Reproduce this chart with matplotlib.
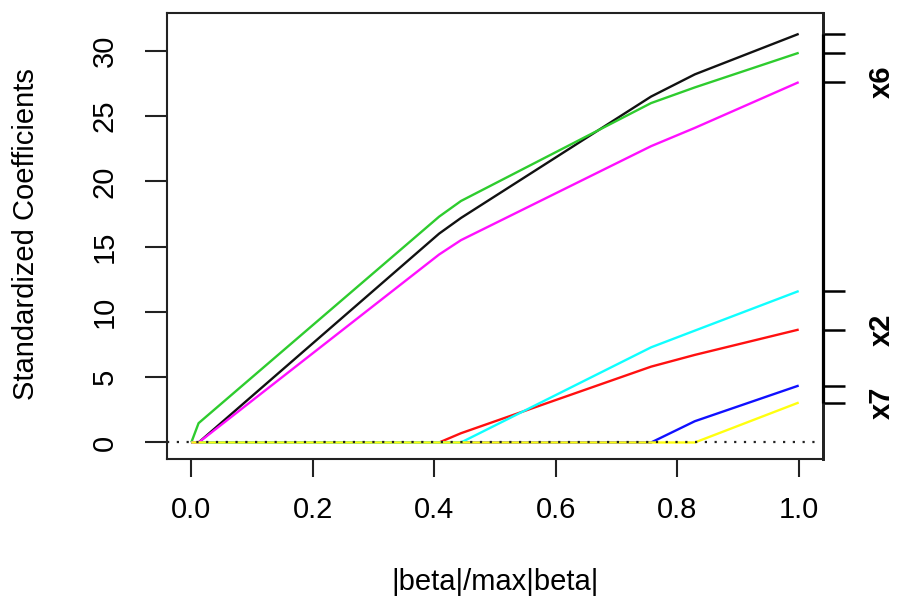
import matplotlib

matplotlib.use("Agg")

import matplotlib.pyplot as plt
import matplotlib.transforms as mtransforms
import numpy as np

# lasso path: fraction of the L1 norm at each breakpoint
frac = [0.0, 0.012, 0.408, 0.444, 0.757, 0.829, 1.0]

coef_black = [0.0, 0.0, 16.0, 17.2, 26.5, 28.2, 31.3]
coef_red = [0.0, 0.0, 0.0, 0.71, 5.81, 6.71, 8.65]
coef_green = [0.0, 1.48, 17.3, 18.5, 26.0, 27.2, 29.85]
coef_blue = [0.0, 0.0, 0.0, 0.0, 0.0, 1.63, 4.36]
coef_cyan = [0.0, 0.0, 0.0, 0.0, 7.29, 8.57, 11.6]
coef_magenta = [0.0, 0.0, 14.4, 15.5, 22.7, 24.1, 27.6]
coef_yellow = [0.0, 0.0, 0.0, 0.0, 0.0, 0.0, 3.06]

# names shown on the right axis (others are dropped where they would overlap)
right_labels = ["", "x2", "", "", "", "x6", "x7"]

x_ticks = [0.0, 0.2, 0.4, 0.6, 0.8, 1.0]
y_ticks = [0, 5, 10, 15, 20, 25, 30]

plt.rcParams["font.family"] = ["Liberation Sans", "DejaVu Sans"]

paths = [coef_black, coef_red, coef_green, coef_blue, coef_cyan, coef_magenta, coef_yellow]
colors = ["#111111", "#FF1010", "#2ECC2E", "#1010FF", "#10FFFF", "#FF10FF", "#FFFF10"]

fig = plt.figure(figsize=(8.99, 5.98), dpi=100)
ax = fig.add_axes([167 / 899, 139 / 598, 656 / 899, 446 / 598])

for values, color in zip(paths, colors):
    ax.plot(frac, values, color=color, linewidth=1.7, solid_capstyle="butt")

ax.axhline(0, color="#222222", linewidth=1.6, linestyle=(0, (1, 3.4)))

ax.set_xlim(-0.04, 1.04)
ax.set_ylim(-1.265, 32.9)
ax.set_xticks(x_ticks, [f"{t:.1f}" for t in x_ticks])
ax.set_yticks(y_ticks, [str(t) for t in y_ticks])
for spine in ax.spines.values():
    spine.set_linewidth(1.5)
    spine.set_color("#222222")
ax.spines["right"].set_linewidth(2.0)

ax.tick_params(axis="x", length=13, width=1.5, pad=14, labelsize=21, color="#222222")
ax.tick_params(axis="y", length=16, width=1.5, pad=19, labelsize=21, color="#222222")
for label in ax.get_yticklabels():
    label.set_rotation(90)
    label.set_va("center")

# right axis: a tick at each final coefficient, line between outermost ticks
finals = [values[-1] for values in paths]
edge = mtransforms.blended_transform_factory(ax.transAxes, ax.transData)
tick_end = 1 + 22 / 656
ax.plot([1, 1], [0, 1], transform=ax.transAxes, color="#222222",
        linewidth=2.0, clip_on=False, zorder=5)
ax.plot([1, 1], [min(finals), max(finals)], transform=edge, color="black",
        linewidth=2.3, clip_on=False, solid_capstyle="butt", zorder=5)
for value, name in zip(finals, right_labels):
    ax.plot([1, tick_end], [value, value], transform=edge, color="black",
            linewidth=1.8, clip_on=False, solid_capstyle="butt")
    if name:
        ax.text(1 + 59 / 656, value, name, transform=edge, rotation=90,
                ha="center", va="center", fontsize=21, fontweight="bold")

fig.text(26 / 899, 1 - 234 / 598, "Standardized Coefficients", rotation=90,
         ha="center", va="center", fontsize=21)
fig.text(495 / 899, 1 - 582 / 598, "|beta|/max|beta|",
         ha="center", va="center", fontsize=21)

fig.savefig("out.png", dpi=100)
